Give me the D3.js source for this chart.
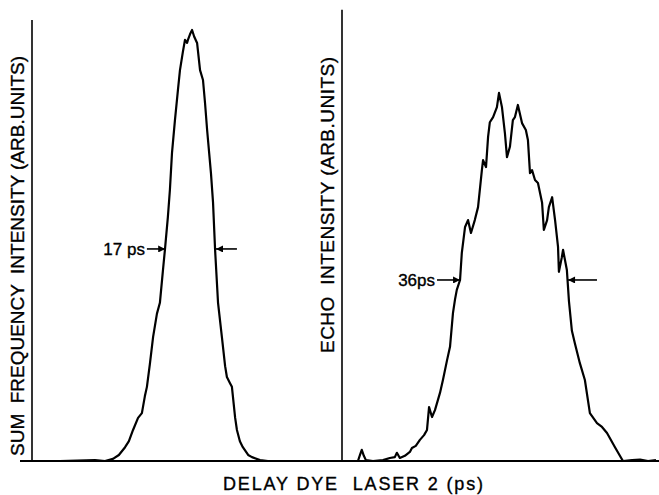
<!DOCTYPE html>
<html>
<head>
<meta charset="utf-8">
<script src="https://cdn.jsdelivr.net/npm/d3@7"></script>
<style>
  body { margin: 0; background: #fff; }
  svg { display: block; }
  text { font-family: "Liberation Sans", Arial, sans-serif; fill: #000; stroke: #000; stroke-width: 0.35px; white-space: pre; }
</style>
</head>
<body>
<svg id="chart" width="659" height="495"></svg>
<script>
"use strict";

// sum frequency trace (left panel), delay in ps relative to peak
const sumDelay = [-57.6, -44.1, -32.2, -28.8, -26.1, -24.1, -22.0, -20.7, -19.3, -17.6,
    -16.3, -15.3, -14.6, -13.6, -12.5, -11.2, -10.2, -9.2, -8.5, -7.5,
    -6.8, -6.1, -5.1, -4.1, -3.4, -2.4, -1.7, -1.0, -0.7, 0.0,
    0.7, 1.4, 2.4, 3.4, 4.4, 5.1, 5.8, 7.1, 7.8, 8.5,
    9.5, 10.8, 11.9, 12.5, 13.6, 14.2, 15.3, 15.9, 16.9, 17.9,
    19.7, 21.0, 23.7, 26.4, 51.5];
const sumIntensity = [0, 0, 0.002, 0, 0.005, 0.014, 0.032, 0.046, 0.072, 0.100,
    0.111, 0.150, 0.172, 0.225, 0.288, 0.342, 0.367, 0.440, 0.490, 0.566,
    0.630, 0.715, 0.791, 0.860, 0.907, 0.950, 0.977, 0.970, 0.977, 0.990,
    1.000, 0.985, 0.970, 0.907, 0.884, 0.830, 0.768, 0.668, 0.600, 0.490,
    0.367, 0.288, 0.220, 0.195, 0.180, 0.172, 0.100, 0.072, 0.046, 0.032,
    0.014, 0.009, 0.002, 0, 0];

// echo trace (right panel)
const echoDelay = [-58.1, -52.7, -52.0, -51.4, -50.7, -50.0, -47.6, -44.2, -41.9, -40.2,
    -39.5, -38.5, -36.8, -35.1, -34.4, -33.1, -31.7, -30.3, -29.3, -28.6,
    -27.6, -26.6, -24.9, -23.9, -22.5, -21.5, -20.5, -19.8, -19.2, -18.1,
    -17.5, -16.4, -15.4, -14.4, -13.1, -12.0, -10.7, -10.3, -9.3, -8.6,
    -8.0, -6.9, -5.6, -4.9, -3.9, -2.9, -2.2, -1.2, -0.2, 0.5,
    1.5, 2.9, 4.2, 4.9, 5.6, 6.3, 7.3, 8.3, 9.7, 10.3,
    11.4, 12.0, 13.1, 14.1, 15.1, 15.4, 16.4, 16.8, 18.1, 18.8,
    19.8, 20.8, 22.5, 24.2, 25.9, 28.3, 30.0, 31.7, 34.4, 37.1,
    40.2, 42.9, 45.6, 48.3];
const echoIntensity = [0, 0, 0.014, 0.026, 0.012, 0.002, 0, 0.002, 0.007, 0.009,
    0.019, 0.007, 0.012, 0.021, 0.030, 0.035, 0.049, 0.060, 0.072, 0.125,
    0.102, 0.118, 0.158, 0.188, 0.234, 0.265, 0.343, 0.375, 0.397, 0.420,
    0.483, 0.543, 0.559, 0.529, 0.559, 0.589, 0.675, 0.698, 0.682, 0.752,
    0.786, 0.798, 0.821, 0.854, 0.821, 0.761, 0.705, 0.729, 0.791, 0.798,
    0.826, 0.784, 0.768, 0.745, 0.668, 0.675, 0.652, 0.645, 0.599, 0.536,
    0.559, 0.589, 0.612, 0.559, 0.497, 0.439, 0.473, 0.490, 0.443, 0.371,
    0.302, 0.273, 0.227, 0.188, 0.111, 0.088, 0.079, 0.065, 0.032, 0,
    0.002, 0.003, 0, 0.002];

// FWHM markers (ps) and the level they sit at
const sumWidth = { label: "17 ps", left: -8.4, right: 8.8, level: 0.492, tailL: -14.6, tailR: 15.9 };
const echoWidth = { label: "36ps", left: -18.1, right: 18.5, level: 0.42, tailL: -25.9, tailR: 28.3 };

const xLabel = "DELAY DYE  LASER 2 (ps)";
const sumLabel = "SUM  FREQUENCY  INTENSITY (ARB.UNITS)";
const echoLabel = "ECHO  INTENSITY (ARB.UNITS)";

const svg = d3.select("#chart");

const baseY = 461;
const y = d3.scaleLinear().domain([0, 1]).range([baseY, 30]);

const xSum = d3.scaleLinear().domain([-57.6, 51.5]).range([20, 342]);
const xEcho = d3.scaleLinear().domain([-58.1, 48.3]).range([342, 656]);

// arrow head
svg.append("defs").append("marker")
    .attr("id", "head")
    .attr("viewBox", "0 0 10 10")
    .attr("refX", 10).attr("refY", 5)
    .attr("markerWidth", 8).attr("markerHeight", 7)
    .attr("markerUnits", "userSpaceOnUse")
    .attr("orient", "auto")
    .append("path")
    .attr("d", "M0,0L10,5L0,10z")
    .attr("fill", "#000");

// baseline and vertical axes
svg.append("line")
    .attr("x1", 20).attr("x2", 659)
    .attr("y1", baseY).attr("y2", baseY)
    .attr("stroke", "#000").attr("stroke-width", 2);

svg.append("line")
    .attr("x1", 32).attr("x2", 32)
    .attr("y1", y(1.023)).attr("y2", baseY)
    .attr("stroke", "#000").attr("stroke-width", 1.6);

svg.append("line")
    .attr("x1", 342).attr("x2", 342)
    .attr("y1", y(1.047)).attr("y2", baseY)
    .attr("stroke", "#000").attr("stroke-width", 1.6);

function drawTrace(xs, delay, intensity, w) {
    const pts = delay.map((d, i) => [d, intensity[i]]);
    const line = d3.line().x(p => xs(p[0])).y(p => y(p[1]));

    svg.append("path")
        .datum(pts)
        .attr("d", line)
        .attr("fill", "none")
        .attr("stroke", "#000")
        .attr("stroke-width", 2.2)
        .attr("stroke-linejoin", "round");

    const ly = y(w.level);
    svg.append("line")
        .attr("x1", xs(w.tailL)).attr("x2", xs(w.left))
        .attr("y1", ly).attr("y2", ly)
        .attr("stroke", "#000").attr("stroke-width", 1.6)
        .attr("marker-end", "url(#head)");
    svg.append("line")
        .attr("x1", xs(w.tailR)).attr("x2", xs(w.right))
        .attr("y1", ly).attr("y2", ly)
        .attr("stroke", "#000").attr("stroke-width", 1.6)
        .attr("marker-end", "url(#head)");

    svg.append("text")
        .attr("x", xs(w.tailL) - 2)
        .attr("y", ly + 6)
        .attr("text-anchor", "end")
        .style("font-size", "17px")
        .text(w.label);
}

drawTrace(xSum, sumDelay, sumIntensity, sumWidth);
drawTrace(xEcho, echoDelay, echoIntensity, echoWidth);

// axis titles
svg.append("text")
    .attr("transform", "translate(24,256) rotate(-90)")
    .attr("text-anchor", "middle")
    .attr("textLength", 400)
    .attr("lengthAdjust", "spacing")
    .style("font-size", "19px")
    .text(sumLabel);

svg.append("text")
    .attr("transform", "translate(334,205) rotate(-90)")
    .attr("text-anchor", "middle")
    .attr("textLength", 296)
    .attr("lengthAdjust", "spacing")
    .style("font-size", "19px")
    .text(echoLabel);

svg.append("text")
    .attr("x", 353)
    .attr("y", 490)
    .attr("text-anchor", "middle")
    .attr("textLength", 260)
    .attr("lengthAdjust", "spacing")
    .style("font-size", "18px")
    .text(xLabel);
</script>
</body>
</html>
